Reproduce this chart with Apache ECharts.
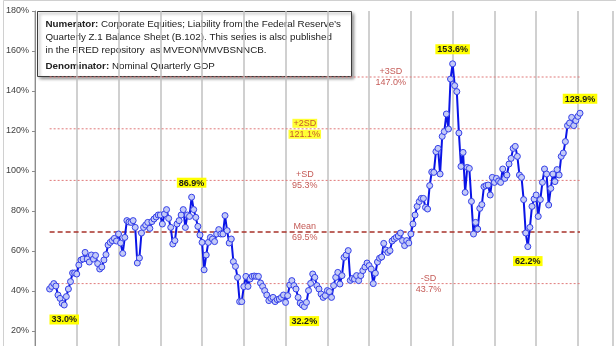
<!DOCTYPE html>
<html>
<head>
<meta charset="utf-8">
<script src="https://cdn.jsdelivr.net/npm/echarts/dist/echarts.min.js"></script>
<style>
html,body{margin:0;padding:0;background:#fff;}
#c{width:616px;height:346px;}
</style>
</head>
<body>
<div id="c"></div>
<script>
// Quarterly series: Corporate Equities (market value) / Nominal GDP, %
var startYear = 1951, startQuarter = 4;
var ratio = [
41,42.3,43.7,42.5,38,36.3,33.8,33.0,37.2,41,
44.7,49,49,48.5,53,55.5,56,59.3,56,54.5,
58,56,57.8,53.7,51,52,55.5,58.2,63,64.3,
65.2,66.3,65,68.5,64,58.8,66.8,75.2,74.5,74.3,
75.2,71.8,54,56.5,69,71.8,73,74.3,71.3,74.7,
76,77,78,78,73.5,78.5,80.7,76.3,71.8,63.5,
65.2,73.5,75.2,78,80.7,71.8,78,77.3,86.9,80.7,
76.8,72.3,68,64.3,50.6,58,64.3,66.8,66,64.7,
68.5,70.7,68.5,68.5,77.7,70.2,64,66,54.7,52.3,
46.8,34.7,34.7,42.2,47.3,42.3,46,47.3,47.5,47.3,
47.3,44,42.3,40.2,38,35.2,36.3,36.8,34.7,35.7,
36,36.8,38,34.3,37.7,43,45.2,42.7,41,36.8,
34,33,32.2,34.3,40.2,43.8,48.5,46.8,42.7,41,
38.5,36.8,37.7,40.2,39.7,36.8,42.7,46.8,49.3,43.5,
47.7,56.8,58,60.2,45.3,46.3,46,47.7,45.2,47.7,
50.2,52,54,52.7,51,43.7,48.9,54.5,56.4,57,
63.8,60.5,59.3,60.2,65,66,66.8,67.5,69,65.2,
62.7,65.2,64,68.5,73.5,78,82.3,84.7,86.3,86.3,
81.8,81,92.7,99.5,99.3,109.7,111.3,98.5,117.3,119.7,
128.5,121,146,153.6,142.7,139.7,119,102.3,109.3,89.3,
101.8,101.3,84.8,68.5,74.3,71,81.3,83.2,92.2,92.7,
93,88,96.8,94.3,96.3,95,94.3,101,96.3,98,
103.5,106.3,111.3,112.3,107.3,98,96.8,85.7,69,62.2,
71.8,82.3,86,88,77.3,85.7,94.3,101,98.5,83,
91.3,98.5,94.7,100.7,98,107.3,109,114.7,122.7,124,
126.8,122.7,125.2,127.3,128.9
];
// Callouts: index into ratio, and side of label
var calloutIndex = [7, 68, 122, 193, 229, 254];
var calloutSide  = ['bottom','top','bottom','top','bottom','top'];
// Reference lines
var refNames  = ['+3SD','+2SD','+SD','Mean','-SD'];
var refValues = [147.0, 121.1, 95.3, 69.5, 43.7];
var refLabelYear = [1992.6, 1982.3, 1982.3, 1982.3, 1997.1];
var refHighlight = [false, true, false, false, false];
// Y-axis ticks
var yTicks = [0,20,40,60,80,100,120,140,160,180];

// quarter -> decimal year (start of quarter)
var quarters = ratio.map(function(v,i){
  var q = startQuarter - 1 + i;
  return startYear + Math.floor(q/4) + (q%4)/4;
});
var firstX = quarters[0], lastX = quarters[quarters.length-1];

var lineData = ratio.map(function(v,i){
  var k = calloutIndex.indexOf(i);
  var item = {value:[quarters[i], v]};
  if (k >= 0) {
    item.label = {
      show:true, position: calloutSide[k], distance: 6,
      formatter: v.toFixed(1) + '%',
      backgroundColor:'#ffff00', padding:[1,2,0,2],
      color:'#1a1a1a', fontSize:9, fontWeight:'bold',
      fontFamily:'Liberation Sans'
    };
  }
  return item;
});

var series = [];
refValues.forEach(function(v,i){
  var isMean = refNames[i] === 'Mean';
  series.push({
    type:'line', silent:true, symbol:'none', z:1,
    data:[[firstX, v],[lastX, v]],
    lineStyle: isMean ? {color:'#a8322a', width:1.5, type:[5,3]}
                      : {color:'#e07a7a', width:1, type:[2,2]}
  });
  var hl = refHighlight[i];
  series.push({
    type:'scatter', silent:true, symbolSize:0, z:6,
    data:[[refLabelYear[i], v]],
    label:{
      show:true, position:'inside',
      formatter: '{a|' + refNames[i] + '}\n{a|' + v.toFixed(1) + '%}',
      rich:{a:{
        color:'#b5302a', fontSize:9, lineHeight:11,
        fontFamily:'Liberation Sans',
        backgroundColor: hl ? '#ffff00' : 'transparent',
        padding: hl ? [0,1,0,1] : 0
      }}
    }
  });
});
series.push({
  type:'line', z:5, data: lineData,
  symbol:'circle', symbolSize:6, showAllSymbol:true,
  lineStyle:{color:'#0a14e6', width:2},
  itemStyle:{color:'#c3caf7', borderColor:'#3540e8', borderWidth:1},
  label:{show:false}
});

var chart = echarts.init(document.getElementById('c'), null, {renderer:'canvas'});
chart.setOption({
  animation:false,
  backgroundColor:'#ffffff',
  grid:{left:35, width:578, top:11, height:360, containLabel:false, outerBoundsMode:'none'},
  xAxis:{
    type:'value', min:1950, max:2019.2, interval:5,
    axisLine:{show:false}, axisTick:{show:false}, axisLabel:{show:false},
    splitLine:{show:true, lineStyle:{color:'#c0c0c0', width:1.5}}
  },
  yAxis:{
    type:'value', min:yTicks[0], max:yTicks[yTicks.length-1], interval:20,
    axisLine:{show:true, lineStyle:{color:'#8c8c8c', width:1}},
    axisTick:{show:true, length:3, lineStyle:{color:'#8c8c8c'}},
    axisLabel:{color:'#404040', fontSize:9, fontFamily:'Liberation Sans', margin:6,
      showMaxLabel:true, showMinLabel:true,
      formatter:function(v){return v + '%';}},
    splitLine:{show:false}
  },
  series: series,
  graphic:[
    {type:'rect', left:1, top:-2, shape:{width:613, height:350}, silent:true,
      style:{fill:'none', stroke:'#d0d0d0', lineWidth:1}, z:0},
    {type:'group', left:37, top:11, z:100, children:[
      {type:'rect', shape:{x:0, y:0, width:314, height:65},
        style:{fill:'#ffffff', stroke:'#3c3c3c', lineWidth:1,
          shadowBlur:3, shadowOffsetX:2, shadowOffsetY:2, shadowColor:'rgba(0,0,0,0.4)'}},
      {type:'text', x:8, y:13, style:{
        text:'{b|Numerator:} Corporate Equities; Liability from the Federal Reserve\u2019s',
        verticalAlign:'middle', fill:'#222', font:'9.8px "Liberation Sans"',
        rich:{b:{fontWeight:'bold', fontSize:9.8, fontFamily:'Liberation Sans', fill:'#222'}}}},
      {type:'text', x:8, y:25.5, style:{
        text:'Quarterly Z.1 Balance Sheet (B.102). This series is also published',
        verticalAlign:'middle', fill:'#222', font:'9.8px "Liberation Sans"'}},
      {type:'text', x:8, y:38.5, style:{
        text:'in the FRED repository  as MVEONWMVBSNNCB.',
        verticalAlign:'middle', fill:'#222', font:'9.8px "Liberation Sans"'}},
      {type:'text', x:8, y:55, style:{
        text:'{b|Denominator:} Nominal Quarterly GDP',
        verticalAlign:'middle', fill:'#222', font:'9.8px "Liberation Sans"',
        rich:{b:{fontWeight:'bold', fontSize:9.8, fontFamily:'Liberation Sans', fill:'#222'}}}}
    ]}
  ]
});
</script>
</body>
</html>
